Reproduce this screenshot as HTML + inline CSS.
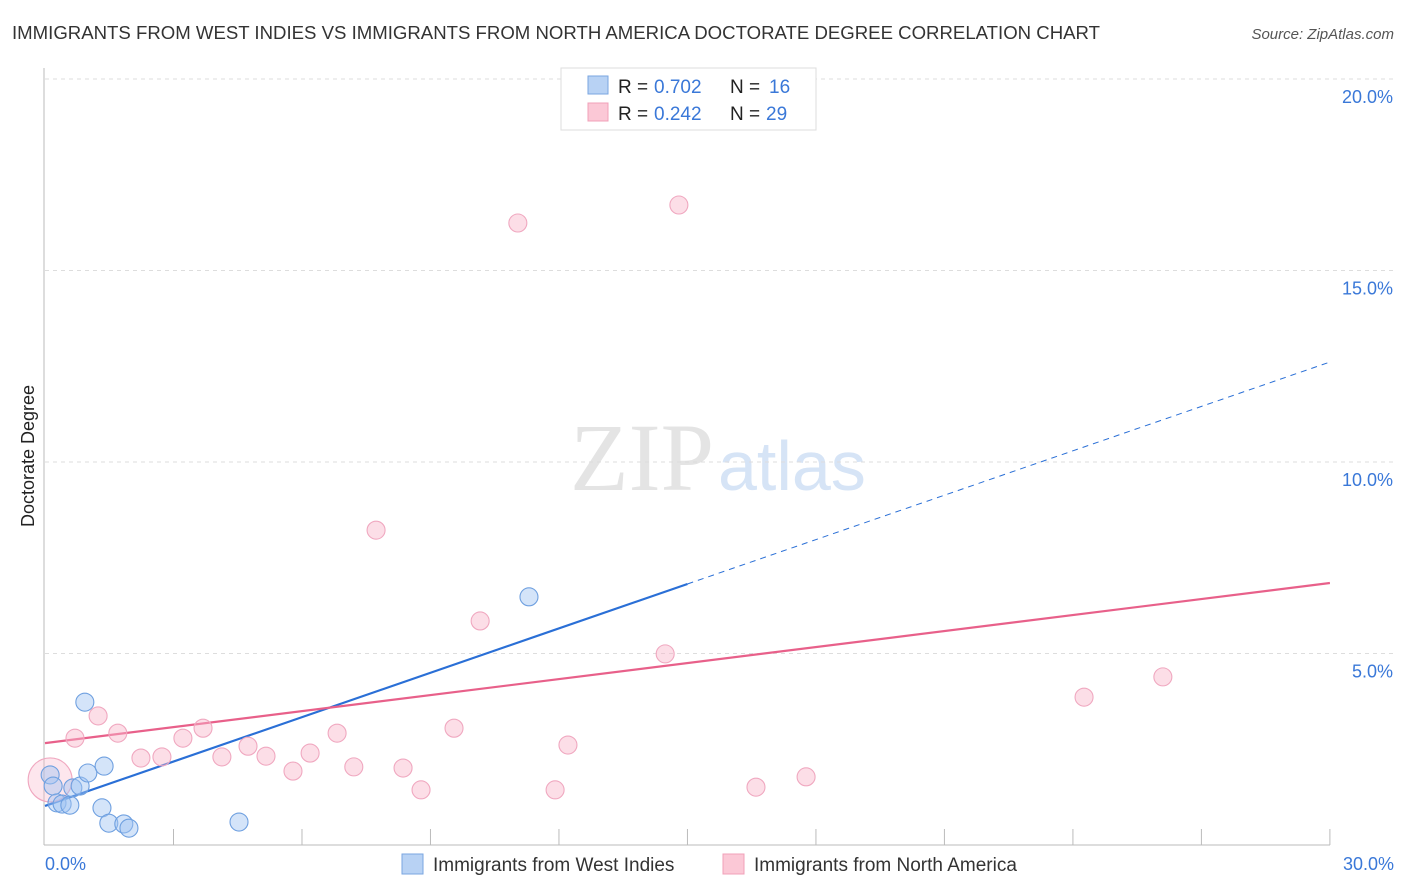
<!DOCTYPE html>
<html><head><meta charset="utf-8"><style>
body{margin:0;background:#fff;font-family:"Liberation Sans",sans-serif;}
</style></head><body>
<svg id="chart" width="1406" height="892" style="display:block">
<text x="12" y="39" font-size="18" fill="#333" textLength="1088" lengthAdjust="spacingAndGlyphs">IMMIGRANTS FROM WEST INDIES VS IMMIGRANTS FROM NORTH AMERICA DOCTORATE DEGREE CORRELATION CHART</text>
<text x="1394" y="39" font-size="15" fill="#555" font-style="italic" text-anchor="end">Source: ZipAtlas.com</text>
<text x="34" y="456" font-size="18" fill="#222" text-anchor="middle" transform="rotate(-90 34 456)">Doctorate Degree</text>
<text x="714" y="490" font-size="96" fill="#e4e4e4" text-anchor="end" font-family="Liberation Serif,serif">ZIP</text>
<text x="718" y="490" font-size="70" fill="#d6e4f6">atlas</text>
<g id="grid"></g><g id="axes"></g><g id="lines"></g><g id="pts"></g>
<g>
<rect x="561" y="68" width="255" height="62" fill="#fff" stroke="#ddd"/>
<rect x="588" y="76" width="20" height="18" fill="#b8d2f4" stroke="#7aa6e0"/>
<rect x="588" y="103" width="20" height="18" fill="#fbc8d6" stroke="#f0a0b8"/>
<text x="618" y="93" font-size="19" fill="#222">R =</text><text x="654" y="93" font-size="19" fill="#3a78d8">0.702</text>
<text x="730" y="93" font-size="19" fill="#222">N =</text><text x="769" y="93" font-size="19" fill="#3a78d8">16</text>
<text x="618" y="120" font-size="19" fill="#222">R =</text><text x="654" y="120" font-size="19" fill="#3a78d8">0.242</text>
<text x="730" y="120" font-size="19" fill="#222">N =</text><text x="766" y="120" font-size="19" fill="#3a78d8">29</text>
</g>
<g>
<rect x="402" y="854" width="21" height="20" fill="#b8d2f4" stroke="#7aa6e0"/>
<text x="433" y="871" font-size="19" fill="#333">Immigrants from West Indies</text>
<rect x="723" y="854" width="21" height="20" fill="#fbc8d6" stroke="#f0a0b8"/>
<text x="754" y="871" font-size="19" fill="#333">Immigrants from North America</text>
</g>
</svg>
<script>
const yTicks=[5,10,15,20];
const yTickLabels=["5.0%","10.0%","15.0%","20.0%"];
const blueX=[0.12,0.19,0.28,0.40,0.58,0.65,0.82,1.00,1.38,0.93,1.33,1.49,1.84,1.96,4.53,11.30];
const blueY=[1.83,1.54,1.10,1.07,1.04,1.49,1.54,1.88,2.06,3.73,0.97,0.57,0.55,0.44,0.60,6.48];
const pinkX=[0.12,0.70,1.24,1.70,2.24,2.73,3.22,3.69,4.13,4.74,5.16,5.79,6.19,6.82,7.21,7.73,8.36,8.78,9.55,10.16,11.04,11.91,12.21,14.48,14.80,16.60,17.77,24.26,26.10];
const pinkY=[1.70,2.79,3.37,2.92,2.27,2.30,2.79,3.05,2.30,2.58,2.32,1.93,2.40,2.92,2.04,8.22,2.01,1.44,3.05,5.85,16.24,1.44,2.61,4.99,16.71,1.51,1.78,3.86,4.39];
const blueFit=[1.02,12.61];
const pinkFit=[2.66,6.84];
const NS="http://www.w3.org/2000/svg";
const sx=v=>45+v*42.83, sy=v=>845-v*38.3;
function mk(t,a,p){const e=document.createElementNS(NS,t);for(const k in a)e.setAttribute(k,a[k]);document.getElementById(p).appendChild(e);return e;}
yTicks.forEach((t,i)=>{
 const l=mk('line',{x1:45,x2:1394,y1:sy(t),y2:sy(t),stroke:'#ddd','stroke-dasharray':'4 4'},'grid');
 
 
 const tx=mk('text',{x:1393,y:sy(t)+24,'font-size':18,fill:'#3a78d8','text-anchor':'end'},'grid');
 tx.textContent=yTickLabels[i];
 
 
});
mk('line',{x1:44,x2:44,y1:68,y2:845,stroke:'#bbb'},'axes');
mk('line',{x1:44,x2:1330,y1:845,y2:845,stroke:'#bbb'},'axes');
for(let i=1;i<=10;i++){const t=mk('line',{x1:sx(i*3),x2:sx(i*3),y1:829,y2:845,stroke:'#bbb'},'axes');
 
 }
let a=mk('text',{x:45,y:870,'font-size':18,fill:'#3a78d8'},'axes');a.textContent='0.0%';


a=mk('text',{x:1394,y:870,'font-size':18,fill:'#3a78d8','text-anchor':'end'},'axes');a.textContent='30.0%';


const bAt=x=>blueFit[0]+(blueFit[1]-blueFit[0])*x/30;
let ln=mk('line',{x1:sx(0),y1:sy(bAt(0)),x2:sx(15),y2:sy(bAt(15)),stroke:'#2a6fd6','stroke-width':2.2},'lines');


ln=mk('line',{x1:sx(15),y1:sy(bAt(15)),x2:sx(30),y2:sy(bAt(30)),stroke:'#2a6fd6','stroke-width':1,'stroke-dasharray':'6 5'},'lines');


ln=mk('line',{x1:sx(0),y1:sy(pinkFit[0]),x2:sx(30),y2:sy(pinkFit[1]),stroke:'#e8608a','stroke-width':2.2},'lines');


pinkX.forEach((x,i)=>{const c=mk('circle',{cx:sx(x),cy:sy(pinkY[i]),r:i==0?22:9,fill:i==0?'rgba(248,182,202,0.35)':'rgba(248,182,202,0.45)',stroke:'#f0a8c0','stroke-width':1.1},'pts');
 
 });
blueX.forEach((x,i)=>{const c=mk('circle',{cx:sx(x),cy:sy(blueY[i]),r:9,fill:'rgba(160,196,242,0.45)',stroke:'#6fa0e0','stroke-width':1.1},'pts');
 
 });
</script>
</body></html>
